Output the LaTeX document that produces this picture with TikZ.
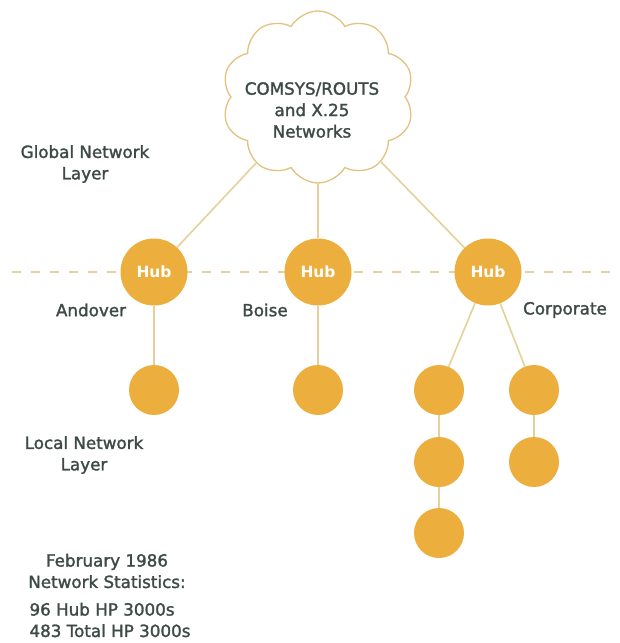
\documentclass[tikz,border=0pt]{standalone}
\usepackage{fontspec}
\setmainfont{DejaVu Sans}
\newfontfamily\lblfont{DejaVu Sans}[FakeBold=1.6]
\newfontfamily\hubfont{DejaVu Sans Bold}
\usetikzlibrary{shapes.symbols}
\definecolor{hubgold}{HTML}{ECAE3C}
\definecolor{linktan}{HTML}{E6D09C}
\definecolor{cloudtan}{HTML}{E2C27E}
\definecolor{labelgray}{HTML}{3E4A46}

\begin{document}
\begin{tikzpicture}[x=1bp,y=-1bp,
    hub/.style={circle,fill=hubgold,text=white,inner sep=0pt,minimum size=67bp,
      font=\fontsize{15.5}{18}\selectfont\hubfont},
    leaf/.style={circle,fill=hubgold,inner sep=0pt,minimum size=50bp},
    link/.style={draw=linktan,line width=1.6bp},
    lbl/.style={text=labelgray,align=center,font=\fontsize{16.8}{21.5}\selectfont\lblfont}]
      \useasboundingbox (0,0) rectangle (620,643);
      \fill[white] (0,0) rectangle (620,643);
      % layer boundary
      \draw[linktan, line width=1.6bp, dash pattern=on 9bp off 10bp] (12,272) -- (620,272);
      % global network layer
      \node[cloud, cloud puffs=10, cloud puff arc=120, aspect=1.1, draw=cloudtan,
        line width=1.3bp, fill=white, minimum width=192bp, minimum height=172bp] (net) at (318,97) {};
      \node[lbl] (nettext) at (312,110) {COMSYS/ROUTS\\and X.25\\Networks};
      \node[lbl] (globallbl) at (85,164) {Global Network\\Layer};
      \node[hub] (hubA) at (154,272) {Hub};
      \node[hub] (hubB) at (318,272) {Hub};
      \node[hub] (hubC) at (488,272) {Hub};
      \node[lbl] (andover) at (91,310) {Andover};
      \node[lbl] (boise) at (265,310) {Boise};
      \node[lbl] (corporate) at (565,310) {Corporate};
      \draw[link] (hubA) -- (net);
      \draw[link] (hubB) -- (net);
      \draw[link] (hubC) -- (net);
      % local network layer
      \node[leaf] (a1) at (154,390) {};
      \node[leaf] (b1) at (318,390) {};
      \node[leaf] (c1) at (439,390) {};
      \node[leaf] (c2) at (439,462) {};
      \node[leaf] (c3) at (439,533) {};
      \node[leaf] (d1) at (534,390) {};
      \node[leaf] (d2) at (534,462) {};
      \draw[link] (hubA) -- (a1);
      \draw[link] (hubB) -- (b1);
      \draw[link] (hubC) -- (c1);
      \draw[link] (hubC) -- (d1);
      \draw[link] (c1) -- (c2);
      \draw[link] (c2) -- (c3);
      \draw[link] (d1) -- (d2);
      \node[lbl] (locallbl) at (84,455) {Local Network\\Layer};
      % statistics
      \node[lbl] (statshead) at (107,571) {February 1986\\Network Statistics:};
      \node[lbl, align=left, anchor=west] (statsbody) at (26,620) {96 Hub HP 3000s\\483 Total HP 3000s};
    \end{tikzpicture}
\end{document}
